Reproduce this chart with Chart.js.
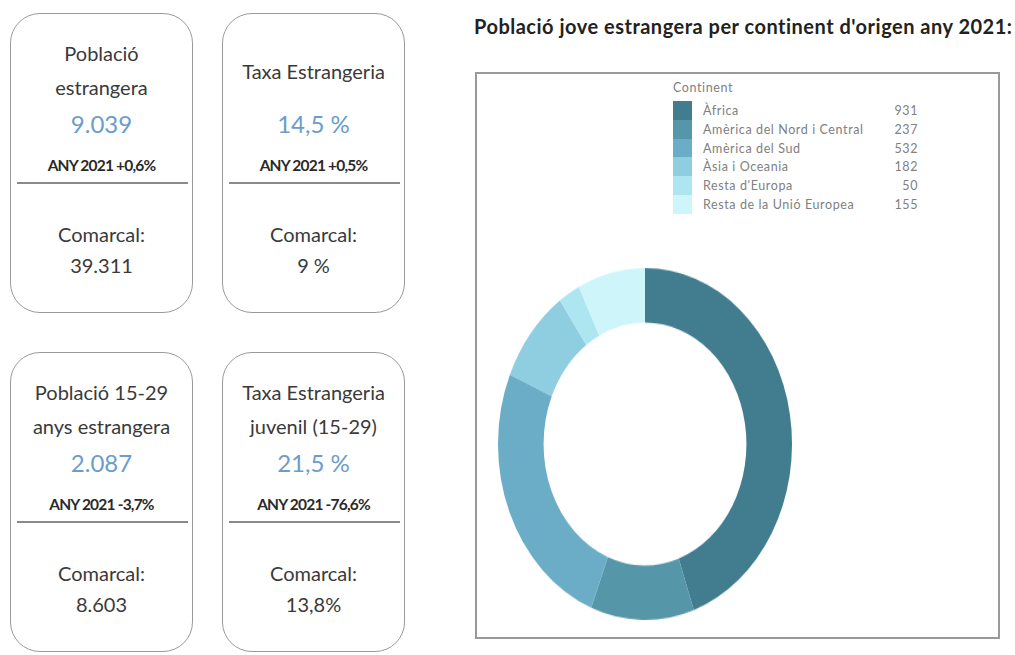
<!DOCTYPE html>
<html>
<head>
<meta charset="utf-8">
<script src="https://cdn.jsdelivr.net/npm/chart.js@4"></script>
<style>
  body { margin: 0; background: #fff; font-family: Lato, "Open Sans", sans-serif; }
  #page { position: relative; width: 1015px; height: 655px; overflow: hidden; }
  .card {
    position: absolute; width: 183px; height: 300px;
    border: 1.5px solid #9a9a9a; border-radius: 30px; box-sizing: border-box;
    color: #3a3a3a; text-align: center;
  }
  .card .t { position: absolute; left: 0; right: 0; font-size: 20px; line-height: 22px; }
  .card .num { color: #6a9dcc; font-size: 24px; }
  .card .yr { font-size: 15.5px; font-weight: bold; letter-spacing: -0.8px; color: #2a2a2a; }
  .card .line { position: absolute; left: 6px; right: 4px; height: 0; border-top: 2.5px solid #8a8a8a; }
  #title { position: absolute; left: 474px; top: 14px; font-weight: bold; font-size: 20px; letter-spacing: 0.5px; color: #222; white-space: nowrap; }
  #box { position: absolute; left: 475px; top: 72px; width: 525px; height: 567px; border: 2px solid #999; box-sizing: border-box; }
  #donut { position: absolute; left: 495px; top: 294px; width: 300px; height: 300px; transform: scaleY(1.197); transform-origin: 50% 50%; }
  #legend { position: absolute; left: 673px; top: 80px; font-size: 12.5px; letter-spacing: 0.6px; color: #808080; }
  #legend .hd { height: 21px; line-height: 16px; }
  #legend .row { position: relative; height: 18.8px; width: 245px; }
  #legend .sw { position: absolute; left: 0; top: 0; width: 19px; height: 18.8px; }
  #legend .lb { position: absolute; left: 30px; top: 2px; white-space: nowrap; }
  #legend .vl { position: absolute; right: 0; top: 2px; }
</style>
</head>
<body>
<div id="page">
  <div id="cards"></div>
  <div id="title">Població jove estrangera per continent d'origen any 2021:</div>
  <div id="box"></div>
  <canvas id="donut" width="300" height="300"></canvas>
  <div id="legend"></div>
</div>
<script>
// Població jove estrangera per continent (any 2021)
const continents = [
  "Àfrica",
  "Amèrica del Nord i Central",
  "Amèrica del Sud",
  "Àsia i Oceania",
  "Resta d'Europa",
  "Resta de la Unió Europea",
];
const youthValues = [931, 237, 532, 182, 50, 155];
const sliceColors = ["#427d8f", "#5596a8", "#6badc6", "#8fcde0", "#ade6f1", "#cef6fa"];

// indicadors de les targetes
const cardTitles = [["Població", "estrangera"], ["Taxa Estrangeria"], ["Població 15-29", "anys estrangera"], ["Taxa Estrangeria", "juvenil (15-29)"]];
const cardValues = ["9.039", "14,5 %", "2.087", "21,5 %"];
const cardYear = ["ANY 2021 +0,6%", "ANY 2021 +0,5%", "ANY 2021 -3,7%", "ANY 2021 -76,6%"];
const cardComarcal = ["39.311", "9 %", "8.603", "13,8%"];

const cardPos = [[10, 13], [222, 13], [10, 352], [222, 352]];
const cardsEl = document.getElementById("cards");
cardPos.forEach(function (p, i) {
  const c = document.createElement("div");
  c.className = "card";
  c.style.left = p[0] + "px";
  c.style.top = p[1] + "px";
  let html = "";
  const tl = cardTitles[i];
  if (tl.length === 2) {
    html += '<div class="t" style="top:28px">' + tl[0] + "</div>";
    html += '<div class="t" style="top:62px">' + tl[1] + "</div>";
  } else {
    html += '<div class="t" style="top:46px">' + tl[0] + "</div>";
  }
  html += '<div class="t num" style="top:99px">' + cardValues[i] + "</div>";
  html += '<div class="t yr" style="top:140px">' + cardYear[i] + "</div>";
  html += '<div class="line" style="top:168px"></div>';
  html += '<div class="t" style="top:209px">Comarcal:</div>';
  html += '<div class="t" style="top:240px">' + cardComarcal[i] + "</div>";
  c.innerHTML = html;
  cardsEl.appendChild(c);
});

// llegenda
const legendEl = document.getElementById("legend");
let lg = '<div class="hd">Continent</div>';
continents.forEach(function (name, i) {
  lg += '<div class="row"><div class="sw" style="background:' + sliceColors[i] + '"></div>' +
    '<span class="lb">' + name + '</span><span class="vl">' + youthValues[i] + "</span></div>";
});
legendEl.innerHTML = lg;

const donutChart = new Chart(document.getElementById("donut"), {
  type: "doughnut",
  data: {
    labels: continents,
    datasets: [
      {
        data: youthValues,
        backgroundColor: sliceColors,
        borderWidth: 0,
      },
    ],
  },
  options: {
    responsive: false,
    animation: false,
    cutout: "69%",
    layout: { padding: 3 },
    plugins: {
      legend: { display: false },
      tooltip: { enabled: false },
    },
  },
});
</script>
</body>
</html>
